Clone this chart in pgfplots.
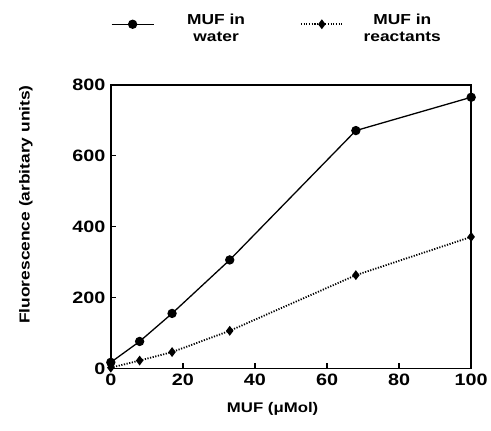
\documentclass[border=0pt]{standalone}
\usepackage{fontspec}
\setmainfont{Liberation Sans}[FakeStretch=1.2]
\usepackage{pgfplots}
\pgfplotsset{compat=1.18}

\begin{document}
\begin{tikzpicture}
\begin{axis}[
  scale only axis, width=361pt, height=284pt,
  xmin=0, xmax=100, ymin=0, ymax=800,
  xtick={0,20,...,100}, ytick={0,200,...,800},
  tick align=inside, xtick pos=bottom, ytick pos=left,
  major tick length=5pt,
  axis line style={line width=1.6pt},
  every tick/.style={black, line width=1.4pt},
  tick label style={font=\fontsize{16.5}{18}\selectfont\bfseries},
  /pgf/number format/assume math mode=true,
  xticklabel style={yshift=-2pt},
  yticklabel style={xshift=-2pt},
  xlabel={MUF (μMol)},
  ylabel={Fluorescence (arbitary units)},
  xlabel style={font=\fontsize{14}{16}\selectfont\bfseries, at={(axis description cs:0.449,-0.144)}, anchor=center},
  ylabel style={font=\fontsize{14.5}{16}\selectfont\bfseries, at={(axis description cs:-0.236,0.578)}, anchor=center},
  clip=false,
  legend columns=2,
  legend style={draw=none, fill=none, at={(axis description cs:0,1)}, anchor=south west,
    yshift=38pt, xshift=-3pt, font=\fontsize{14.5}{17}\selectfont\bfseries, cells={align=center},
    /tikz/column 1/.style={column sep=31pt},
    /tikz/column 2/.style={column sep=53pt},
    /tikz/column 3/.style={column sep=18pt}},
  legend image code/.code={\draw[mark repeat=2,mark phase=2,#1] plot coordinates {(0pt,4pt) (21pt,4pt) (42pt,4pt)};},
]
\addplot[black, line width=1.3pt, mark=*, mark size=4pt] coordinates {
  (0,17) (8,76) (17,155) (33,306) (68,671) (100,765)
};
\addlegendentry{MUF in\\water}
\addplot[black, line width=1.8pt, dash pattern=on 1.2pt off 1.5pt, mark=diamond*, mark size=3.5pt, mark options={solid}] coordinates {
  (0,2) (8,22) (17,46) (33,106) (68,263) (100,371)
};
\addlegendentry{MUF in\\reactants}
\coordinate (o) at (rel axis cs:0,0);
\end{axis}
\path (o) ++(-111pt,-62pt) rectangle ++(491pt,431pt);
\end{tikzpicture}
\end{document}
